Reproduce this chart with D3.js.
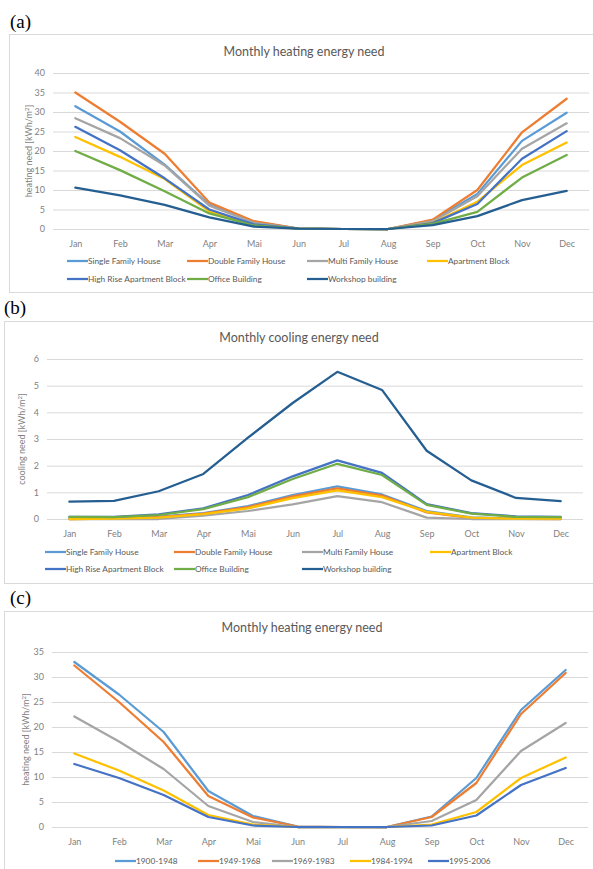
<!DOCTYPE html>
<html>
<head>
<meta charset="utf-8">
<script src="https://cdn.jsdelivr.net/npm/d3@7"></script>
<style>
  body { margin: 0; background: #fff; }
  svg text { font-family: Lato, "Open Sans", sans-serif; }
</style>
</head>
<body>
<div id="chart"></div>
<script>
// D A T A
var months = ['Jan', 'Feb', 'Mar', 'Apr', 'Mai', 'Jun', 'Jul', 'Aug', 'Sep', 'Oct', 'Nov', 'Dec'];
var buildingTypes = ['Single Family House', 'Double Family House', 'Multi Family House', 'Apartment Block',
                     'High Rise Apartment Block', 'Office Building', 'Workshop building'];
var periods = ['1900-1948', '1949-1968', '1969-1983', '1984-1994', '1995-2006'];

// (a) heating need by building type [kWh/m2]
var heatSingle    = [31.5, 25.0, 16.5, 6.2, 1.8, 0.1, 0, 0, 2.2, 9.0, 22.6, 29.8];
var heatDouble    = [35.0, 27.5, 19.3, 6.8, 2.0, 0.1, 0, 0, 2.4, 10.0, 24.8, 33.4];
var heatMulti     = [28.4, 23.3, 16.3, 6.0, 1.6, 0.1, 0, 0, 2.0, 8.4, 20.6, 27.1];
var heatApartment = [23.6, 18.5, 12.8, 4.5, 1.0, 0.1, 0, 0, 1.6, 7.0, 16.4, 22.2];
var heatHighRise  = [26.2, 20.2, 13.0, 5.0, 1.2, 0.1, 0, 0, 1.5, 6.4, 18.0, 25.1];
var heatOffice    = [20.0, 15.1, 9.7, 4.0, 0.9, 0.1, 0, 0, 1.3, 4.4, 13.2, 19.0];
var heatWorkshop  = [10.6, 8.6, 6.2, 3.0, 0.6, 0.1, 0, 0, 1.0, 3.3, 7.4, 9.8];
var heatYTicks = [0, 5, 10, 15, 20, 25, 30, 35, 40];

// (b) cooling need by building type [kWh/m2]
var coolSingle    = [0.02, 0.03, 0.09, 0.22, 0.48, 0.90, 1.22, 0.92, 0.30, 0.06, 0.02, 0.02];
var coolDouble    = [0.00, 0.01, 0.07, 0.20, 0.45, 0.85, 1.15, 0.88, 0.25, 0.03, 0.00, 0.00];
var coolMulti     = [0.00, 0.00, 0.00, 0.13, 0.30, 0.55, 0.86, 0.63, 0.05, 0.00, 0.00, 0.00];
var coolApartment = [0.00, 0.01, 0.05, 0.18, 0.40, 0.78, 1.07, 0.82, 0.27, 0.05, 0.01, 0.01];
var coolHighRise  = [0.08, 0.08, 0.17, 0.40, 0.90, 1.60, 2.20, 1.73, 0.56, 0.22, 0.10, 0.08];
var coolOffice    = [0.08, 0.07, 0.15, 0.37, 0.82, 1.50, 2.07, 1.65, 0.53, 0.20, 0.08, 0.07];
var coolWorkshop  = [0.65, 0.68, 1.04, 1.69, 3.05, 4.35, 5.52, 4.84, 2.56, 1.45, 0.79, 0.67];
var coolYTicks = [0, 1, 2, 3, 4, 5, 6];

// (c) heating need by construction period [kWh/m2]
var heat1900 = [33.0, 26.5, 19.0, 7.2, 2.2, 0.1, 0, 0, 2.1, 9.8, 23.4, 31.4];
var heat1949 = [32.3, 25.0, 17.0, 6.2, 1.9, 0.1, 0, 0, 2.0, 8.8, 22.6, 30.8];
var heat1969 = [22.1, 17.1, 11.6, 4.2, 1.0, 0.0, 0, 0, 1.2, 5.4, 15.2, 20.8];
var heat1984 = [14.7, 11.3, 7.3, 2.4, 0.5, 0.0, 0, 0, 0.5, 3.0, 9.8, 13.9];
var heat1995 = [12.6, 9.8, 6.4, 2.0, 0.3, 0.0, 0, 0, 0.3, 2.3, 8.4, 11.8];
var periodYTicks = [0, 5, 10, 15, 20, 25, 30, 35];

var typeColors = ['#5b9bd5', '#ed7d31', '#a5a5a5', '#ffc000', '#4472c4', '#70ad47', '#255e91'];
var periodColors = ['#5b9bd5', '#ed7d31', '#a5a5a5', '#ffc000', '#4472c4'];

window.onload = function () {

    var svg = d3.select('#chart').append('svg')
        .attr('width', 593)
        .attr('height', 869);

    function drawPanel(p) {
        var g = svg.append('g');

        // panel letter
        g.append('text')
            .attr('x', p.letterX).attr('y', p.letterY)
            .style('font-family', '"Liberation Serif", "Times New Roman", serif')
            .style('font-size', '19px')
            .attr('fill', '#000')
            .text(p.letter);

        // chart frame
        g.append('rect')
            .attr('x', p.box[0] + 0.5).attr('y', p.box[1] + 0.5)
            .attr('width', p.box[2]).attr('height', p.box[3])
            .attr('fill', 'none').attr('stroke', '#d9d9d9');

        var x = d3.scalePoint().domain(months).range(p.xRange).padding(0.5);
        var y = d3.scaleLinear().domain([0, d3.max(p.ticks)]).range(p.yRange);

        // title
        g.append('text')
            .attr('x', p.titleX).attr('y', p.titleY)
            .attr('text-anchor', 'middle')
            .attr('fill', '#595959')
            .style('font-size', '12.5px')
            .text(p.title);

        // gridlines + y labels
        var yAxis = d3.axisLeft(y).tickValues(p.ticks).tickFormat(d3.format('d'))
            .tickSize(-(p.xRange[1] - p.xRange[0])).tickPadding(8);
        var ya = g.append('g')
            .attr('transform', 'translate(' + p.xRange[0] + ',0)')
            .call(yAxis);
        ya.select('.domain').remove();
        ya.selectAll('line').attr('stroke', '#d9d9d9');
        ya.selectAll('text').attr('fill', '#7f7f7f').style('font-size', '9px');

        // x labels
        var xa = g.append('g')
            .attr('transform', 'translate(0,' + p.yRange[0] + ')')
            .call(d3.axisBottom(x).tickSize(0).tickPadding(12));
        xa.select('.domain').remove();
        xa.selectAll('text').attr('fill', '#7f7f7f').style('font-size', '9px');

        // y axis title
        g.append('text')
            .attr('transform', 'translate(' + p.yTitleX + ',' + ((p.yRange[0] + p.yRange[1]) / 2) + ') rotate(-90)')
            .attr('text-anchor', 'middle')
            .attr('dy', '0.35em')
            .attr('fill', '#7f7f7f')
            .style('font-size', '9px')
            .html(p.yTitle + ' [kWh/m<tspan baseline-shift="super" font-size="6px">2</tspan>]');

        // lines
        var line = d3.line()
            .x(function (d, i) { return x(months[i]); })
            .y(function (d) { return y(d); });

        g.selectAll('path.series').data(p.series).enter().append('path')
            .attr('class', 'series')
            .attr('d', function (d) { return line(d); })
            .attr('fill', 'none')
            .attr('stroke', function (d, i) { return p.colors[i]; })
            .attr('stroke-width', 2.25)
            .attr('stroke-linejoin', 'round')
            .attr('stroke-linecap', 'round');

        // legend
        var leg = g.selectAll('g.leg').data(p.names).enter().append('g')
            .attr('class', 'leg')
            .attr('transform', function (d, i) {
                return 'translate(' + p.legendX[i] + ',' + p.legendY[i] + ')';
            });
        leg.append('line')
            .attr('x1', 0).attr('x2', 21)
            .attr('stroke', function (d, i) { return p.colors[i]; })
            .attr('stroke-width', 2.25);
        leg.append('text')
            .attr('x', 21).attr('dy', '0.35em')
            .attr('fill', '#595959')
            .style('font-size', '8.3px')
            .text(function (d) { return d; });
    }

    // (a)
    drawPanel({
        letter: '(a)', letterX: 10, letterY: 28,
        box: [9, 34, 600, 258],
        title: 'Monthly heating energy need', titleX: 304, titleY: 56,
        xRange: [53, 589], yRange: [229, 73], ticks: heatYTicks,
        yTitle: 'heating need', yTitleX: 29,
        series: [heatSingle, heatDouble, heatMulti, heatApartment, heatHighRise, heatOffice, heatWorkshop],
        names: buildingTypes, colors: typeColors,
        legendX: [67, 187, 307, 427, 67, 187, 307],
        legendY: [261, 261, 261, 261, 279, 279, 279]
    });

    // (b)
    drawPanel({
        letter: '(b)', letterX: 4, letterY: 314,
        box: [4, 321, 600, 262],
        title: 'Monthly cooling energy need', titleX: 299, titleY: 342,
        xRange: [47, 583], yRange: [519, 359], ticks: coolYTicks,
        yTitle: 'cooling need', yTitleX: 22,
        series: [coolSingle, coolDouble, coolMulti, coolApartment, coolHighRise, coolOffice, coolWorkshop],
        names: buildingTypes, colors: typeColors,
        legendX: [45, 174, 302, 430, 45, 174, 302],
        legendY: [552, 552, 552, 552, 569, 569, 569]
    });

    // (c)
    drawPanel({
        letter: '(c)', letterX: 10, letterY: 604,
        box: [4, 611, 600, 270],
        title: 'Monthly heating energy need', titleX: 302, titleY: 632,
        xRange: [52, 588], yRange: [827, 652], ticks: periodYTicks,
        yTitle: 'heating need', yTitleX: 26,
        series: [heat1900, heat1949, heat1969, heat1984, heat1995],
        names: periods, colors: periodColors,
        legendX: [115, 198, 272, 350, 428],
        legendY: [861, 861, 861, 861, 861]
    });
};
</script>
</body>
</html>
